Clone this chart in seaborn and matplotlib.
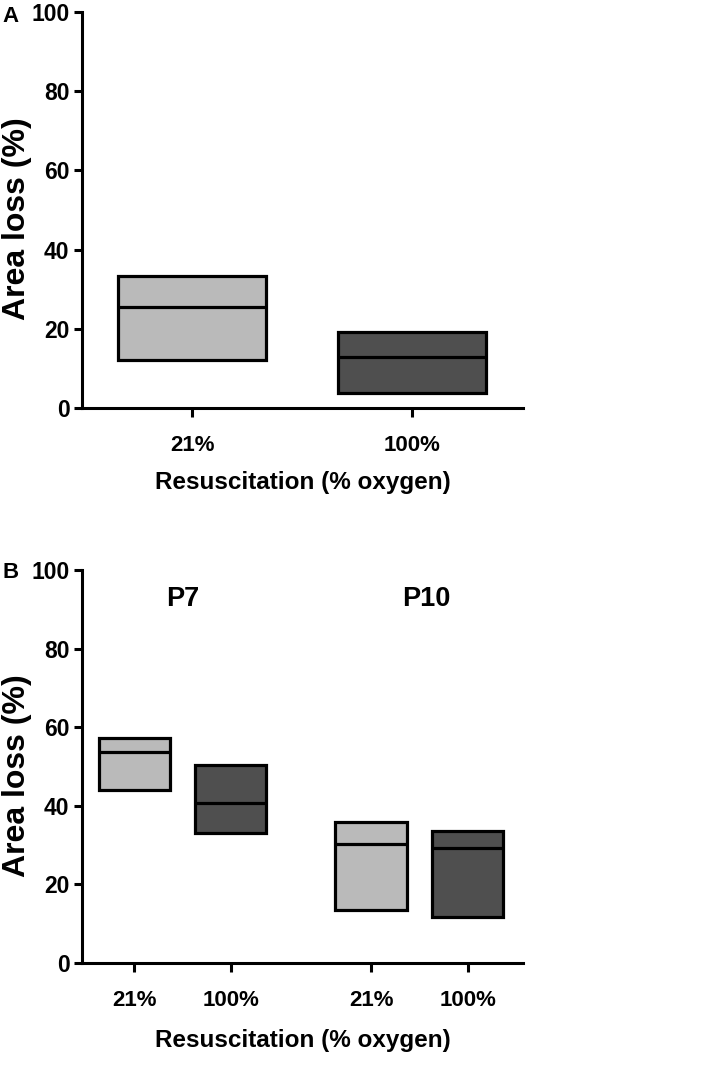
import matplotlib
matplotlib.use("Agg")
import matplotlib.pyplot as plt
import seaborn as sns
import pandas as pd

# Panel A: area loss by resuscitation oxygen (min, median, max)
a_oxygen = ["21%", "100%"]
a_low = [12.2, 3.9]
a_median = [25.6, 12.8]
a_high = [33.2, 19.1]

# Panel B: split by age
b_age = ["P7", "P7", "P10", "P10"]
b_oxygen = ["21%", "100%", "21%", "100%"]
b_low = [44.1, 33.2, 13.6, 11.7]
b_median = [53.6, 40.8, 30.3, 29.2]
b_high = [57.2, 50.4, 36.0, 33.5]

ages = ["P7", "P10"]
colors = {"21%": "#bababa", "100%": "#4f4f4f"}


def to_long(groups, lows, meds, highs):
    # floating bars: box from min to max with a median line
    rows = []
    for g, lo, md, hi in zip(groups, lows, meds, highs):
        for v in (lo, lo, md, hi, hi):
            rows.append(g + (v,))
    return rows


sns.set_style("ticks")
plt.rcParams["font.family"] = ["Liberation Sans", "DejaVu Sans"]
plt.rcParams["font.weight"] = "bold"
plt.rcParams["text.color"] = "black"
plt.rcParams["axes.labelcolor"] = "black"
plt.rcParams["axes.linewidth"] = 2.2
plt.rcParams["xtick.major.width"] = 2.2
plt.rcParams["ytick.major.width"] = 2.2
plt.rcParams["xtick.major.size"] = 6.5
plt.rcParams["ytick.major.size"] = 6
plt.rcParams["xtick.color"] = "black"
plt.rcParams["ytick.color"] = "black"
plt.rcParams["axes.edgecolor"] = "black"

fig = plt.figure(figsize=(7.09, 10.68), dpi=100)
ax_a = fig.add_axes([0.1157, 0.618, 0.622, 0.3708])
ax_b = fig.add_axes([0.1157, 0.0983, 0.622, 0.368])

box_kw = dict(linewidth=2.3, linecolor="black", showcaps=False, saturation=1,
              whis=1.5, fliersize=0, legend=False)

# ---- panel A
df_a = pd.DataFrame(to_long([(o,) for o in a_oxygen], a_low, a_median, a_high),
                    columns=["oxygen", "value"])
sns.boxplot(data=df_a, x="oxygen", y="value", hue="oxygen", order=a_oxygen,
            hue_order=a_oxygen, palette=colors, width=0.67, ax=ax_a, **box_kw)
ax_a.set_xlim(-0.5, 1.505)

# ---- panel B
df_b = pd.DataFrame(to_long(list(zip(b_age, b_oxygen)), b_low, b_median, b_high),
                    columns=["age", "oxygen", "value"])
sns.boxplot(data=df_b, x="age", y="value", hue="oxygen", order=ages,
            hue_order=a_oxygen, palette=colors, width=0.818, gap=0.267,
            ax=ax_b, **box_kw)
ax_b.set_xlim(-0.424, 1.437)

# ticks under each box in panel B
centers = []
for p in ax_b.patches:
    xs = p.get_path().vertices[:, 0]
    centers.append((xs.min() + xs.max()) / 2)
centers = sorted(set(round(c, 4) for c in centers))
ax_b.set_xticks(centers)
ax_b.set_xticklabels(b_oxygen)

for i, age in enumerate(ages):
    ax_b.text(i + 0.03 * i, 92.5, age, ha="center", va="center", fontsize=19.5,
              fontweight="bold")

for ax, lab_y in ((ax_a, -0.16), (ax_b, -0.168)):
    ax.set_ylim(0, 100)
    ax.set_yticks([0, 20, 40, 60, 80, 100])
    sns.despine(ax=ax)
    ax.tick_params(axis="y", labelsize=16.5, pad=3)
    ax.tick_params(axis="x", labelsize=16, pad=13)
    ax.set_ylabel("Area loss (%)", fontsize=23, fontweight="bold")
    ax.yaxis.set_label_coords(-0.113, 0.478)
    ax.set_xlabel("Resuscitation (% oxygen)", fontsize=17.5, fontweight="bold")
    ax.xaxis.set_label_coords(0.5, lab_y)
    for t in ax.get_xticklabels() + ax.get_yticklabels():
        t.set_fontweight("bold")

fig.text(0.003, 1 - 6 / 1068, "A", fontsize=16, fontweight="bold", va="top")
fig.text(0.003, 1 - 562 / 1068, "B", fontsize=16, fontweight="bold", va="top")

fig.savefig("out.png", dpi=100)
